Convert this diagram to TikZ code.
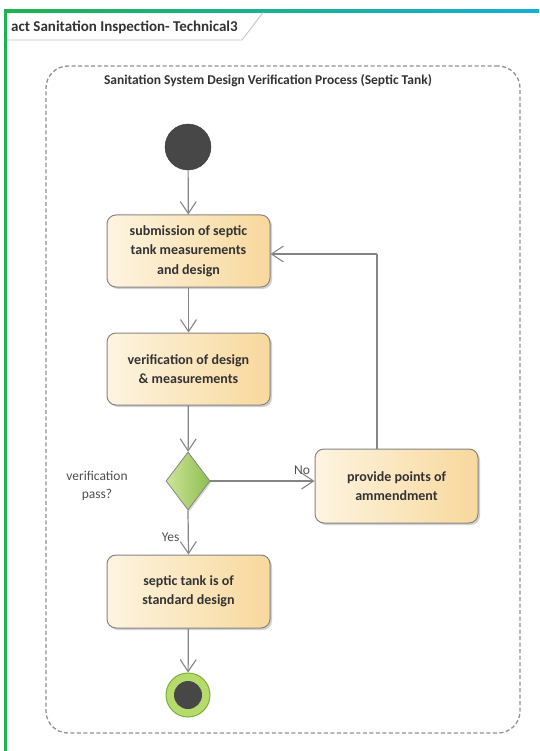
\documentclass[tikz,border=0pt]{standalone}
\usepackage{fontspec}
\setmainfont{Carlito}
\usetikzlibrary{shapes.geometric,arrows.meta,shadows}

\definecolor{linegray}{HTML}{858585}
\definecolor{boxL}{HTML}{FDF4E0}
\definecolor{boxR}{HTML}{F8D89C}
\definecolor{txt}{HTML}{333333}
\definecolor{labelgray}{HTML}{505050}
\definecolor{framegreen}{HTML}{1DB34E}
\definecolor{framecyan}{HTML}{14AFD8}
\definecolor{dkfill}{HTML}{474747}
\definecolor{diaL}{HTML}{CDE59A}
\definecolor{diaR}{HTML}{8DBE4F}
\definecolor{endring}{HTML}{B5DB6C}
\definecolor{endline}{HTML}{7FAE3B}

\tikzset{
  action/.style={draw=linegray, line width=1pt, rounded corners=9pt,
    left color=boxL, right color=boxR, minimum width=163pt, minimum height=72pt,
    align=center, text=txt, font=\bfseries\fontsize{14}{19.5}\selectfont,
    drop shadow={opacity=0.35, shadow xshift=2pt, shadow yshift=-2pt}},
  decision/.style={diamond, draw=linegray, line width=0.8pt, left color=diaL, right color=diaR,
    minimum width=44pt, minimum height=58pt, inner sep=0pt, aspect=0.76,
    drop shadow={opacity=0.3, shadow xshift=1.5pt, shadow yshift=-1.5pt}},
  initial/.style={circle, fill=dkfill, draw=dkfill!80!black, minimum size=46pt, inner sep=0pt},
  final/.style={circle, fill=endring, draw=endline, line width=1pt, minimum size=44pt, inner sep=0pt},
  finaldot/.style={circle, fill=dkfill, minimum size=28pt, inner sep=0pt},
  flow/.style={draw=linegray, line width=1.2pt, -{Straight Barb[length=12pt,width=16pt,line width=1.1pt]}},
  plainline/.style={draw=linegray, line width=1.2pt},
  guard/.style={text=labelgray, font=\fontsize{13.5}{18}\selectfont},
  region/.style={draw=linegray!90, line width=1.3pt, dash pattern=on 4pt off 2.5pt,
    rounded corners=22pt, minimum width=474pt, minimum height=667pt, inner sep=0pt},
  heading/.style={text=txt, font=\bfseries\fontsize{13.5}{15}\selectfont}
}

\begin{document}
\begin{tikzpicture}[x=1pt, y=-1pt]
  % page
  \fill[white] (0,0) rectangle (539,751);
  \useasboundingbox (0,0) rectangle (539,751);

  % diagram frame
  \shade[left color=framegreen, right color=framecyan] (4,10) rectangle (539,12.5);
  \fill[framegreen] (4,10) rectangle (6.5,751);
  \draw[gray!45, line width=0.9pt] (6.5,40) -- (242,40) -- (263,12.5);
  \node[heading, anchor=west, inner sep=0pt, font=\bfseries\fontsize{15}{16}\selectfont] (frametitle) at (11,27) {act Sanitation Inspection- Technical3};

  % activity region
  \node[region] (area) at (283,399.5) {};
  \node[heading] (areatitle) at (268,81) {Sanitation System Design Verification Process (Septic Tank)};

  % nodes
  \node[initial] (start) at (188,147) {};
  \node[action] (submit) at (188.5,251) {submission of septic\\tank measurements\\and design};
  \node[action] (verify) at (188.5,369) {verification of design\\\& measurements};
  \node[decision] (check) at (188,481) {};
  \node[guard, align=center] (checklbl) at (97,486) {verification\\pass?};
  \node[action, minimum height=74pt] (amend) at (396.5,486) {provide points of\\ammendment};
  \node[action, minimum height=73pt] (standard) at (188.5,591.5) {septic tank is of\\standard design};
  \node[final] (finish) at (188,695) {};
  \node[finaldot] (finishdot) at (finish) {};
  \coordinate (loop) at (377,254);

  % connectors
  \draw[flow] (start) -- (submit);
  \draw[flow] (submit) -- (verify);
  \draw[flow] (verify) -- (check);
  \draw[flow] (check.east) -- (check.east -| amend.west)
    node[guard, pos=0.88, above, yshift=2pt] (nolbl) {No};
  \draw[flow] (check.south) -- (standard.north)
    node[guard, pos=0.6, left, xshift=-5pt] (yeslbl) {Yes};
  \draw[flow] (standard) -- (finish);
  \draw[plainline] (amend.north -| loop) -- (loop);
  \draw[flow] (loop) -- (loop -| submit.east);
\end{tikzpicture}
\end{document}
